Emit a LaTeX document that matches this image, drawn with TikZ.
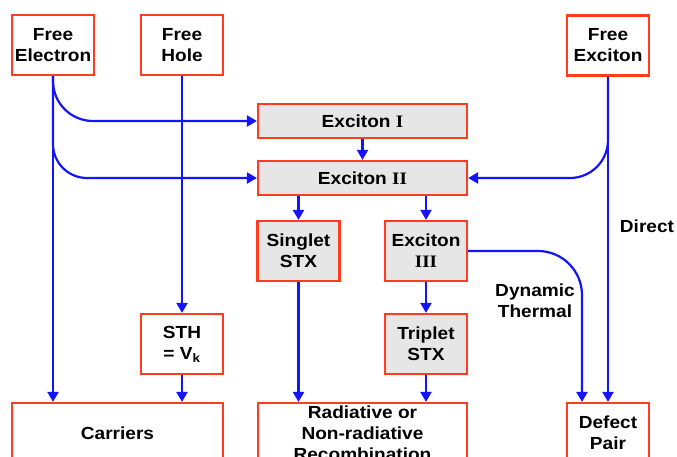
\documentclass[tikz,border=0pt]{standalone}
\usepackage{fontspec}
\setmainfont{Liberation Sans}[FakeStretch=1.09]
\newfontfamily\romfont{Liberation Serif}[FakeStretch=1.09]
\usepackage{tikz}
\usetikzlibrary{arrows.meta, positioning, calc}
\definecolor{rouge}{RGB}{255,60,30}
\definecolor{bleu}{RGB}{20,20,250}
\definecolor{grisclair}{RGB}{230,230,230}
\newcommand{\rom}[1]{{\romfont\bfseries #1}}

\begin{document}
\begin{tikzpicture}[x=1pt, y=-1pt,
	font=\fontsize{17.5}{21}\selectfont\bfseries,
	boite/.style={draw=rouge, line width=2.2pt, fill=white, align=center,
		inner sep=0pt, minimum width=82pt, minimum height=60pt},
	grise/.style={boite, fill=grisclair},
	fleche/.style={draw=bleu, line width=2.2pt, -{Triangle[length=10pt,width=11pt]}}]
				\useasboundingbox (0,0) rectangle (677,456);
				\clip (0,0) rectangle (677,456);
				
				\node[boite] (FE) at (53,45) {Free\\Electron};
				\node[boite] (FH) at (182,45) {Free\\Hole};
				\node[boite] (FX) at (608,45.5) {Free\\Exciton};
				
				\node[grise, minimum width=209pt, minimum height=34pt]
				(X1) at (362.5,121) {Exciton \rom{I}};
				\node[grise, minimum width=209pt, minimum height=34pt]
				(X2) at (362.5,178) {Exciton \rom{II}};
				
				\node[grise] (SS) at (298.5,251) {Singlet\\STX};
				\node[grise] (X3) at (426,251) {Exciton\\\rom{III}};
				
				\node[boite] (STH) at (182,344) {STH\\= V\textsubscript{k}};
				\node[grise] (TS) at (426,344) {Triplet\\STX};
				
				\node[boite, minimum width=211pt] (CA) at (117.5,433) {Carriers};
				\node[boite, minimum width=209pt] (RC) at (362.5,433)
				{Radiative or\\Non-radiative\\Recombination};
				\node[boite] (DP) at (608,433) {Defect\\Pair};
				
				\node (DI) at (647,226) {Direct};
				\node[align=center] (DT) at (535,301) {Dynamic\\Thermal};
				
				\draw[fleche] (FE.south) -- (FE.south |- CA.north);
				\draw[fleche, rounded corners=40pt] (FE.south) |- (X1.west);
				\draw[fleche, rounded corners=34pt] (FE.south) |- (X2.west);
				\draw[fleche] (FH.south) -- (STH.north);
				\draw[fleche] (STH.south) -- (STH.south |- CA.north);
				\draw[fleche] (X1.south) -- (X2.north);
				\draw[fleche] (X2.south -| SS.north) -- (SS.north);
				\draw[fleche] (X2.south -| X3.north) -- (X3.north);
				\draw[fleche] (SS.south) -- (SS.south |- RC.north);
				\draw[fleche] (X3.south) -- (TS.north);
				\draw[fleche] (TS.south) -- (TS.south |- RC.north);
				\draw[fleche, rounded corners=44pt] (X3.east) -| ([xshift=-26pt]DP.north);
				\draw[fleche] (FX.south) -- (DP.north);
				\draw[fleche, rounded corners=38pt] (FX.south) |- (X2.east);
			\end{tikzpicture}
\end{document}
